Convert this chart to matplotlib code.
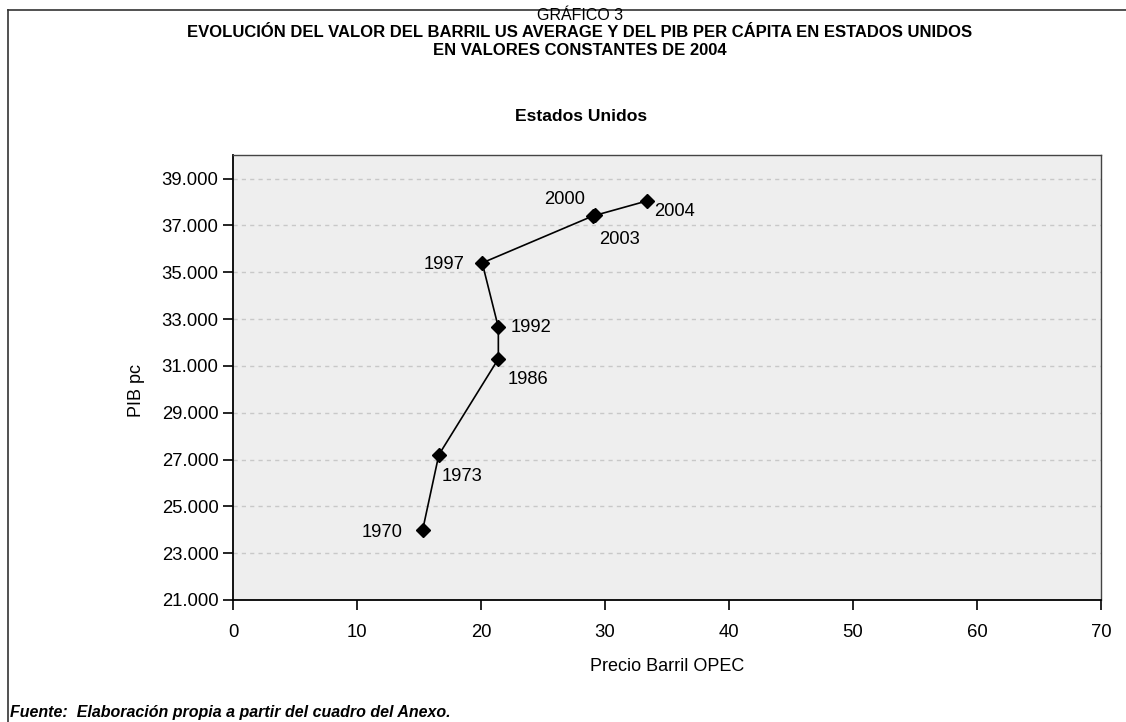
import matplotlib.pyplot as plt
from matplotlib.lines import Line2D
from matplotlib.ticker import FuncFormatter

plt.rcParams['font.family'] = ['Liberation Sans', 'DejaVu Sans']

# Datos: precio del barril (OPEC) y PIB per capita de EE.UU.
years = ['1970', '1973', '1986', '1992', '1997', '2000', '2003', '2004']
precio = [15.3, 16.6, 21.4, 21.4, 20.1, 29.0, 29.2, 33.4]
pib = [24000, 27200, 31300, 32650, 35400, 37400, 37430, 38050]

# Desplazamiento de las etiquetas (pixeles) y alineacion
offsets = [(-20, -3, 'right'), (3, -22, 'left'), (9, -21, 'left'), (12, 0, 'left'),
           (-18, -2, 'right'), (-8, 17, 'right'), (4, -24, 'left'), (7, -11, 'left')]

fig = plt.figure(figsize=(11.26, 7.22), dpi=100)
ax = fig.add_axes([0.2069, 0.169, 0.7709, 0.616])
ax.set_facecolor('#eeeeee')

ax.plot(precio, pib, color='black', lw=1.2, marker='D', markersize=7, zorder=3)
for yr, x, y, (dx, dy, ha) in zip(years, precio, pib, offsets):
    ax.annotate(yr, (x, y), xytext=(dx, dy), textcoords='offset pixels',
                ha=ha, va='center', fontsize=13.2)

ax.set_xlim(0, 70)
ax.set_ylim(21000, 40000)
ax.set_xticks(range(0, 71, 10))
ax.set_yticks(range(21000, 39001, 2000))
ax.yaxis.set_major_formatter(FuncFormatter(lambda v, p: f'{int(v):,}'.replace(',', '.')))
ax.grid(axis='y', color='#c8c8c8', linestyle=(0, (3, 3)), lw=1)
ax.set_axisbelow(True)
ax.tick_params(axis='both', labelsize=13.3, length=7, width=1.2, color='black')
ax.tick_params(axis='x', pad=10)
for s in ['left', 'bottom']:
    ax.spines[s].set_color('black')
    ax.spines[s].set_linewidth(1.3)
for s in ['top', 'right']:
    ax.spines[s].set_color('#444444')
    ax.spines[s].set_linewidth(1)

ax.set_xlabel('Precio Barril OPEC', fontsize=13)
ax.set_ylabel('PIB pc', fontsize=13)
ax.xaxis.set_label_coords(0.5, -0.13)
ax.yaxis.set_label_coords(-0.101, 0.47)

fig.text(0.515, 0.978, 'GRÁFICO 3', ha='center', va='center', fontsize=11.5)
fig.text(0.515, 0.955, 'EVOLUCIÓN DEL VALOR DEL BARRIL US AVERAGE Y DEL PIB PER CÁPITA EN ESTADOS UNIDOS',
         ha='center', va='center', fontsize=12, fontweight='bold')
fig.text(0.515, 0.930, 'EN VALORES CONSTANTES DE 2004', ha='center', va='center',
         fontsize=12, fontweight='bold')
fig.text(0.516, 0.838, 'Estados Unidos', ha='center', va='center', fontsize=12.6, fontweight='bold')
fig.text(0.009, 0.0125, 'Fuente:  Elaboración propia a partir del cuadro del Anexo.',
         ha='left', va='center', fontsize=11.5, fontweight='bold', style='italic')

# marco exterior
fig.add_artist(Line2D([0.0075, 1.0], [0.986, 0.986], color='#333333', lw=1.2))
fig.add_artist(Line2D([0.0075, 0.0075], [0.0, 0.986], color='#333333', lw=1.2))

fig.savefig('out.png', dpi=100)
